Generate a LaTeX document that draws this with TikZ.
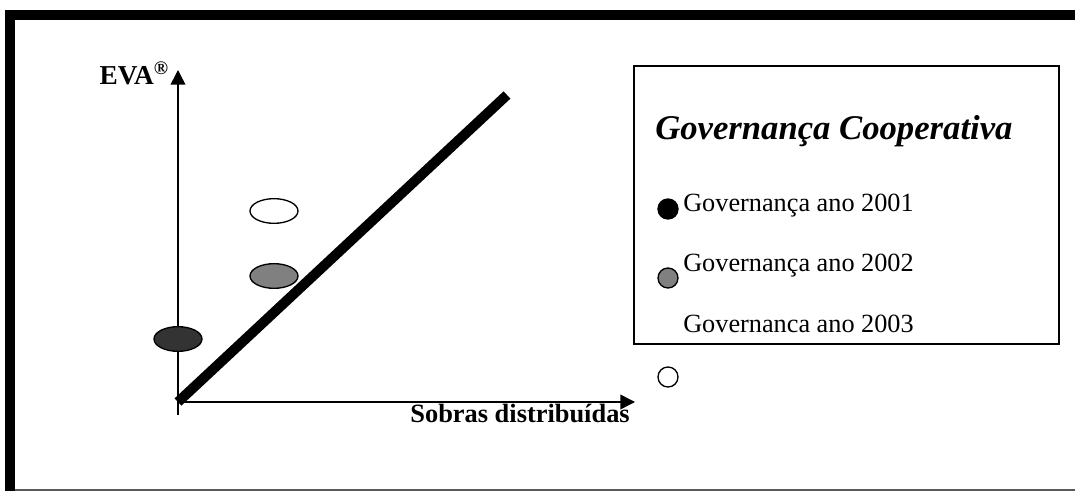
\documentclass[tikz,border=0pt]{standalone}
\usepackage{fontspec}
\setmainfont{Liberation Serif}
\usetikzlibrary{arrows.meta,shapes.geometric}

\tikzset{
  axis/.style={line width=1.1pt, -{Triangle[width=11pt,length=11pt]}},
  blob/.style={ellipse, draw, line width=1pt, minimum width=36pt, minimum height=18.5pt, inner sep=0pt},
  mark2/.style={circle, draw, line width=1pt, minimum size=15pt, inner sep=0pt},
  lbl/.style={inner sep=0pt, font=\fontsize{19.7}{22}\selectfont}
}

\begin{document}
\begin{tikzpicture}[x=0.75pt, y=-0.75pt]
\useasboundingbox (0,0) rectangle (1075,491);
% frame
\fill (5,10) rectangle (1075,20);
\fill (5,10) rectangle (15,491);
\draw[gray!70!black, line width=1.2pt] (15,490) -- (1075,490);

% axes
\coordinate (O) at (178,402);
\coordinate (ybot) at (178,415);
\coordinate (ytip) at (178,70);
\coordinate (xtip) at (635,402);
\coordinate (diag) at (507,95);
\draw[axis] (ybot) -- (ytip);
\draw[axis] (O) -- (xtip);
\draw[line width=7.5pt] (O) -- (diag);
\node[anchor=base east, inner sep=0pt, font=\fontsize{20.5}{22}\selectfont\bfseries] (eva) at (169,85) {EVA\textsuperscript{®}};
\node[anchor=base east, inner sep=0pt, font=\fontsize{19.8}{22}\selectfont\bfseries] (sobras) at (630,423) {Sobras distribuídas};

% points
\node[blob, fill=black!80] (y2001) at (178,339) {};
\node[blob, fill=black!50] (y2002) at (274,276) {};
\node[blob, fill=white] (y2003) at (274,211) {};

% legend
\node[draw, line width=1.1pt, minimum width=318.75pt, minimum height=208.5pt, inner sep=0pt] (legend) at (846.5,205) {};
\node[anchor=base west, inner sep=0pt, font=\fontsize{26}{30}\selectfont\bfseries\itshape] (title) at (655,140) {Governança Cooperativa};
\node[mark2, fill=black] (m2001) at (668,209) {};
\node[lbl, anchor=base west] (t2001) at (683,212) {Governança ano 2001};
\node[mark2, fill=black!50] (m2002) at (668,278) {};
\node[lbl, anchor=base west] (t2002) at (683,272) {Governança ano 2002};
\node[lbl, anchor=base west] (t2003) at (683,333) {Governanca ano 2003};
\node[mark2, fill=white] (m2003) at (668,377) {};
\end{tikzpicture}
\end{document}
